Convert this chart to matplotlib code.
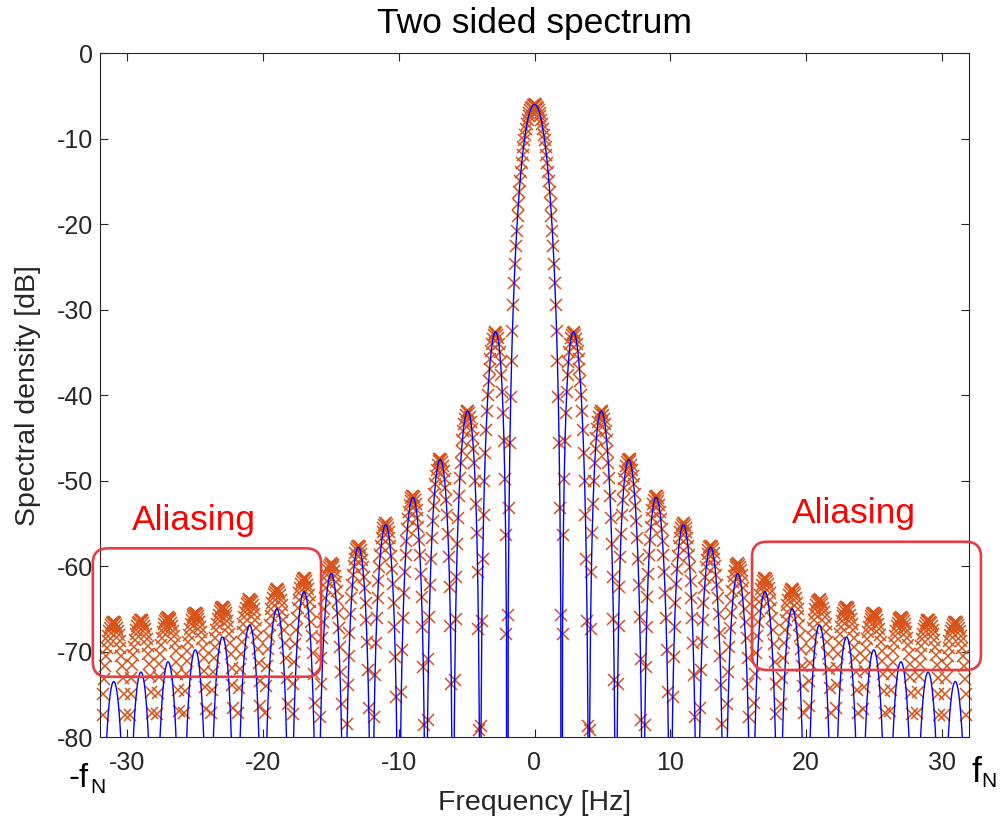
import numpy as np
import matplotlib.pyplot as plt
from matplotlib.patches import FancyBboxPatch

plt.rcParams['font.family'] = ['Liberation Sans', 'DejaVu Sans']
plt.rcParams['axes.unicode_minus'] = False

# spacing of the DFT bins (Hz) and Nyquist frequency
df = 1 / 16
f_nyq = 32

# main lobe: peak level and shape (dB below peak) at 0, df, 2df ... up to the null at 2 Hz
main_peak_db = -6.0
main_drop_db = [0.0, -0.03, -0.11, -0.25, -0.45, -0.70, -1.02, -1.39, -1.82, -2.32,
                -2.89, -3.52, -4.22, -5.00, -5.86, -6.81, -7.85, -8.98, -10.23, -11.60,
                -13.10, -14.75, -16.58, -18.62, -20.91, -23.50, -26.49, -30.00, -34.25,
                -39.66, -47.16, -59.68]

# side lobes (centred on odd frequencies, same on both sides)
side_centres = [3, 5, 7, 9, 11, 13, 15, 17, 19, 21, 23, 25, 27, 29, 31]
line_peak_db = [-33.0, -42.0, -47.6, -52.0, -55.2, -57.8, -60.9, -63.0,
                -65.0, -66.9, -68.3, -69.8, -71.2, -72.4, -73.5]
marker_peak_db = [-33.0, -42.0, -47.5, -51.8, -55.0, -57.6, -59.7, -61.4,
                  -62.7, -63.9, -64.8, -65.5, -66.0, -66.3, -66.5]
# level of the DFT points one bin before each null (aliased lobes are shallower)
marker_edge_db = [-73.4, -82.4, -87.9, -92.2, -95.4, -95.0, -92.0, -90.0,
                  -89.0, -88.0, -87.5, -87.0, -87.0, -87.0, -87.0]
# how fast each lobe leans outwards (dB per Hz, away from 0 Hz)
line_slope_db = [-5.79, -3.47, -2.48, -1.93, -1.58, -1.34, -1.16, -1.02,
                 -0.91, -0.83, -0.76, -0.69, -0.64, -0.60, -0.56]
marker_slope_db = [-5.75, -3.41, -2.38, -1.80, -1.42, -1.15, -0.94, -0.77,
                   -0.63, -0.51, -0.40, -0.31, -0.22, -0.13, -0.04]
side_drop_db = [0.0, -0.08, -0.34, -0.77, -1.38, -2.18, -3.21, -4.47,
                -6.02, -7.91, -10.21, -13.06, -16.68, -21.48, -28.39, -40.35]

null_db = -300.0


def lobe(centre, peak, drop, slope=0.0, edge=None):
    k = np.arange(-(len(drop) - 1), len(drop))
    d = np.concatenate([drop[:0:-1], drop])
    if edge is not None:
        d = d * min(1.0, (peak - edge) / -drop[-1])
    off = k * df
    return centre + off, peak + d + slope * off * np.sign(centre)


# build the continuous spectrum and the DFT points lobe by lobe
line_f, line_db, mark_f, mark_db = [], [], [], []
f, v = lobe(0.0, main_peak_db, np.array(main_drop_db))
line_f.append(f); line_db.append(v); mark_f.append(f); mark_db.append(v)
for c, pl, pm, em, sl, sm in zip(side_centres, line_peak_db, marker_peak_db,
                                 marker_edge_db, line_slope_db, marker_slope_db):
    for s in (-1, 1):
        f, v = lobe(s * c, pl, np.array(side_drop_db), sl)
        line_f.append(f); line_db.append(v)
        f, v = lobe(s * c, pm, np.array(side_drop_db), sm, em)
        mark_f.append(f); mark_db.append(v)
nulls = np.array([n for n in range(-f_nyq, f_nyq + 1, 2) if n != 0], dtype=float)
line_f.append(nulls); line_db.append(np.full(len(nulls), null_db))

line_f = np.concatenate(line_f); line_db = np.concatenate(line_db)
order = np.argsort(line_f)
line_f, line_db = line_f[order], line_db[order]
mark_f = np.concatenate(mark_f); mark_db = np.concatenate(mark_db)
keep = mark_db >= -80.3
mark_f, mark_db = mark_f[keep], mark_db[keep]

fig = plt.figure(figsize=(10, 8.21), dpi=100)
ax = fig.add_axes([0.100, 0.1023, 0.869, 0.833])

ax.plot(mark_f, mark_db, 'x', color='#D95319', ms=8, mew=1.1, clip_on=False, zorder=2)
ax.plot(line_f, line_db, color='#0000FF', lw=1.0, zorder=3)

ax.set_xlim(-f_nyq, f_nyq)
ax.set_ylim(-80, 0)
ax.set_xticks([-30, -20, -10, 0, 10, 20, 30])
ax.set_yticks(range(-80, 1, 10))
ax.tick_params(direction='in', top=True, right=True, length=6, width=0.8,
               labelsize=18, colors='#262626')
ax.tick_params(axis='x', pad=10)
ax.tick_params(axis='y', pad=5)
for sp in ax.spines.values():
    sp.set_color('#262626')
    sp.set_linewidth(0.8)

ax.set_xlabel('Frequency [Hz]', fontsize=20.5, color='#262626')
ax.set_ylabel('Spectral density [dB]', fontsize=20.5, color='#262626')
ax.xaxis.set_label_coords(0.5, -0.078)
ax.yaxis.set_label_coords(-0.068, 0.5)

fig.text(0.5345, 1 - 33 / 821, 'Two sided spectrum', ha='center', va='baseline',
         fontsize=25.5, color='black')

# aliasing annotations
ax.text(-25.07, -55.8, 'Aliasing', color='#FF0000', fontsize=25.5,
        ha='center', va='baseline')
ax.text(23.53, -55.0, 'Aliasing', color='#FF0000', fontsize=25.5,
        ha='center', va='baseline')
for x0, x1, y0, y1 in [(-32.53, -15.72, -72.95, -57.93), (16.02, 32.88, -72.16, -57.16)]:
    box = FancyBboxPatch((x0, y0), x1 - x0, y1 - y0,
                         boxstyle='round,pad=0,rounding_size=1.1',
                         mutation_aspect=1.59, fill=False, ec='#EA3A42', lw=1.9,
                         clip_on=False, zorder=4)
    ax.add_patch(box)

# Nyquist markers below the axis
fig.text(68 / 1000, 1 - 786.7 / 821, '-f', fontsize=23.5, ha='left', va='baseline')
fig.text(90 / 1000, 1 - 793 / 821, 'N', fontsize=15, ha='left', va='baseline')
fig.text(971 / 1000, 1 - 781.7 / 821, 'f', fontsize=25.5, ha='left', va='baseline')
fig.text(981.5 / 1000, 1 - 786.7 / 821, 'N', fontsize=15, ha='left', va='baseline')

fig.savefig('out.png', dpi=100)
